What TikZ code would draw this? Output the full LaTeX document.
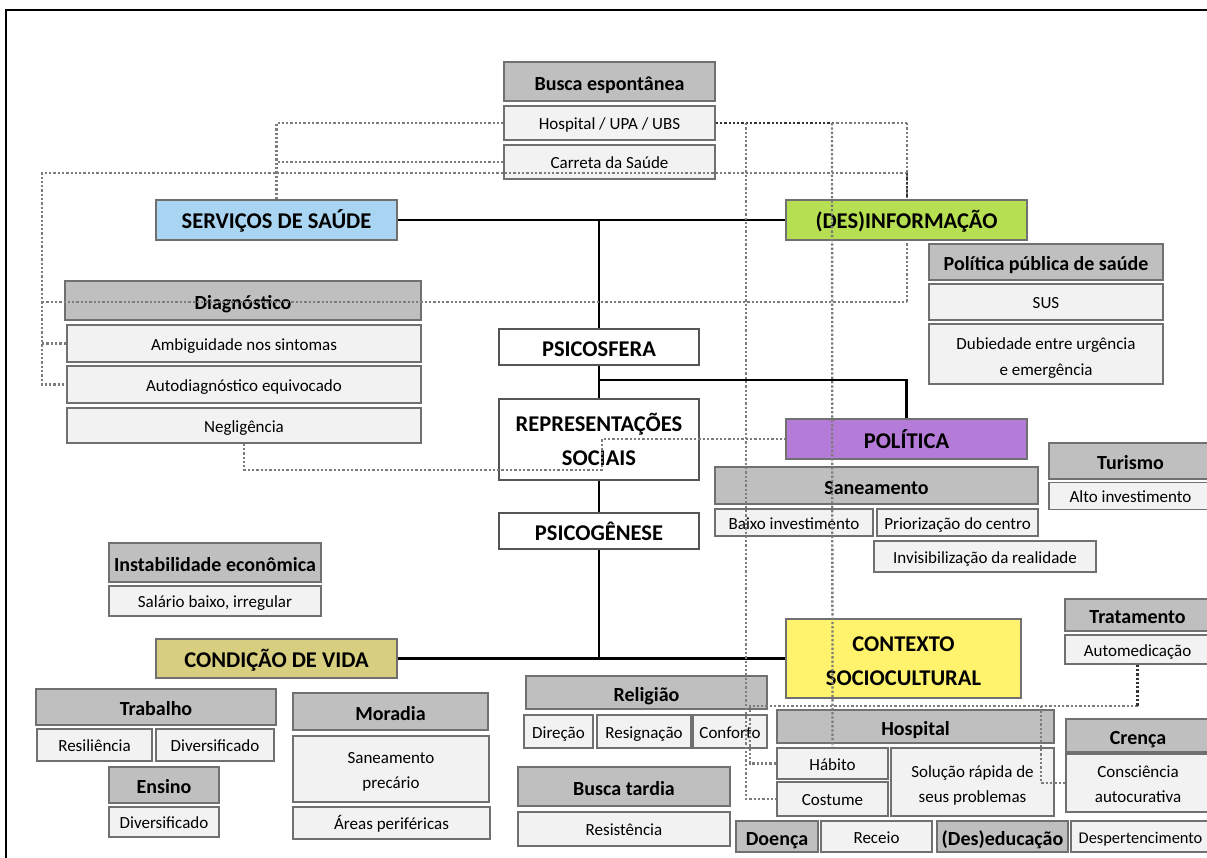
\documentclass[tikz,border=0pt]{standalone}
\usepackage{fontspec}
\setmainfont{Carlito}
\usetikzlibrary{backgrounds}
\definecolor{hdrfill}{HTML}{BFBFBF}
\definecolor{itemfill}{HTML}{F2F2F2}
\definecolor{boxline}{HTML}{707070}
\definecolor{psiline}{HTML}{555555}
\definecolor{servfill}{HTML}{A9D5F3}
\definecolor{desfill}{HTML}{B6E051}
\definecolor{polfill}{HTML}{B57BD8}
\definecolor{condfill}{HTML}{D7CE7F}
\definecolor{ctxfill}{HTML}{FFF36D}
\definecolor{dotline}{HTML}{7C7C7C}
\definecolor{dotdark}{HTML}{333333}
\begin{document}
\begin{tikzpicture}[x=1pt,y=-1pt,
  box/.style={draw=boxline, line width=1.2pt, inner sep=0pt, align=center},
  hdr/.style={box, fill=hdrfill, text height=18.6pt, text depth=1pt,
    font=\bfseries\fontsize{20}{23}\selectfont},
  itembase/.style={box, fill=itemfill, font=\fontsize{17}{25}\selectfont},
  item/.style={itembase, text height=14pt, text depth=0.5pt},
  catbase/.style={box, font=\bfseries\fontsize{22.5}{34}\selectfont},
  cat/.style={catbase, text height=19pt, text depth=1pt},
  psibase/.style={box, fill=white, draw=psiline, font=\bfseries\fontsize{22.5}{34}\selectfont},
  psi/.style={psibase, text height=19pt, text depth=1pt},
  twoline/.style={text height=#1pt, text depth=0pt},
  sz/.style 2 args={minimum width=#1pt, minimum height=#2pt},
  trunk/.style={line width=2.6pt, black},
  dots/.style={line width=2.3pt, dotline, dash pattern=on 2.3pt off 2pt},
  darkdots/.style={dots, dotdark},
]
\useasboundingbox (0,0) rectangle (1207,858);
\clip (0,0) rectangle (1207,858);

% outer frame
\draw[line width=2pt] (1230,10) -- (6,10) -- (6,880);

% ---------- nodes ----------
\node[hdr,  sz={211}{39}] (busca)   at (609.5,81.5) {Busca espontânea};
\node[item, sz={211}{34}] (hupa)    at (609.5,123)  {Hospital / UPA / UBS};
\node[item, sz={211}{34}] (carreta) at (609.5,162)  {Carreta da Saúde};

\node[cat, fill=servfill, sz={241}{40}] (serv)   at (276.5,220) {SERVIÇOS DE SAÚDE};
\node[cat, fill=desfill,  sz={241}{40}] (desinf) at (906.5,220) {(DES)INFORMAÇÃO};

\node[hdr,  sz={234}{36}] (polpub) at (1046,262) {Política pública de saúde};
\node[item, sz={234}{36}] (sus)    at (1046,302) {SUS};
\node[itembase, twoline=42, sz={234}{60}] (dub) at (1046,354) {Dubiedade entre urgência\\e emergência};

\node[hdr,  sz={356}{39}] (diag)  at (243,300.5) {Diagnóstico};
\node[item, sz={354}{37}] (ambig) at (244,343.5) {Ambiguidade nos sintomas};
\node[item, sz={354}{37}] (autod) at (244,384.5) {Autodiagnóstico equivocado};
\node[item, sz={354}{35}] (negl)  at (244,425.5) {Negligência};

\node[cat, fill=polfill, sz={241}{40}] (pol) at (906.5,439) {POLÍTICA};

\node[hdr,  sz={163}{36}] (turismo) at (1130.5,461) {Turismo};
\node[item, sz={163}{27}] (alto)    at (1130.5,496) {Alto investimento};

\node[hdr,  sz={323}{37}] (sanea) at (876.5,485.5) {Saneamento};
\node[item, sz={158}{27}] (baixo) at (794,522.5)   {Baixo investimento};
\node[item, sz={161}{27}] (prior) at (957.5,522.5) {Priorização do centro};
\node[item, sz={222}{31}] (invis) at (985,556.5)   {Invisibilização da realidade};

\node[hdr,  sz={212}{39}] (instab)  at (215,562.5) {Instabilidade econômica};
\node[item, sz={212}{30}] (salario) at (215,601)   {Salário baixo, irregular};

\node[cat, fill=condfill, sz={241}{39}] (cond) at (276.5,658.5) {CONDIÇÃO DE VIDA};

\node[hdr,  sz={240}{36}] (trab)    at (156,707)  {Trabalho};
\node[item, sz={115}{32}] (resil)   at (94.5,745) {Resiliência};
\node[item, sz={118}{32}] (divtrab) at (215,745)  {Diversificado};
\node[hdr,  sz={110}{36}] (ensino)  at (164,785)  {Ensino};
\node[item, sz={110}{30}] (divens)  at (164,822)  {Diversificado};

\node[hdr,  sz={195}{37}] (moradia) at (390.5,711.5) {Moradia};
\node[itembase, twoline=39, sz={196}{66}] (sanprec) at (391,769) {Saneamento\\precário};
\node[item, sz={197}{32}] (areas)   at (391.5,823)   {Áreas periféricas};

\node[catbase, twoline=54.5, fill=ctxfill, sz={235}{79}] (ctx) at (903.5,658.5) {CONTEXTO\\SOCIOCULTURAL};

\node[hdr,  sz={241}{33}] (relig)    at (646.5,692.5) {Religião};
\node[item, sz={69}{33}]  (direcao)  at (558.5,731.5) {Direção};
\node[item, sz={94}{33}]  (resign)   at (644,731.5)   {Resignação};
\node[item, sz={74}{33}]  (conforto) at (730,731.5)   {Conforto};
\node[hdr,  sz={212}{39}] (btardia)  at (624,786.5)   {Busca tardia};
\node[item, sz={212}{34}] (resist)   at (624,829)     {Resistência};

\node[hdr,  sz={277}{33}] (hosp)    at (915.5,726.5) {Hospital};
\node[item, sz={111}{31}] (habito)  at (832.5,763.5) {Hábito};
\node[item, sz={111}{34}] (costume) at (832.5,799)   {Costume};
\node[itembase, twoline=40.4, sz={163}{68}] (solucao) at (972.5,782) {Solução rápida de\\seus problemas};

\node[hdr,  sz={145}{32}] (trat)   at (1137.5,615)   {Tratamento};
\node[item, sz={145}{29}] (autom)  at (1137.5,649.5) {Automedicação};
\node[hdr,  sz={144}{33}] (crenca) at (1138,735.5)   {Crença};
\node[itembase, twoline=39.8, sz={144}{58}] (consc) at (1138,783) {Consciência\\autocurativa};

\node[hdr,  sz={82}{31}]  (doenca)  at (777,836.5)    {Doença};
\node[item, sz={111}{31}] (receio)  at (876.5,836.5)  {Receio};
\node[hdr,  sz={131}{31}] (desed)   at (1002.5,836.5) {(Des)educação};
\node[item, font=\fontsize{16.4}{18}\selectfont, text height=13.5pt, sz={139}{31}] (despert) at (1140.5,836.5) {Despertencimento};

\node[psi, sz={200}{36}] (psicosf) at (599,347)   {PSICOSFERA};
\node[psibase, twoline=52, sz={200}{81}] (repr) at (599,439.5) {REPRESENTAÇÕES\\SOCIAIS};
\node[psi, sz={200}{36}] (psicog)  at (599,531)   {PSICOGÊNESE};

% ---------- junction points ----------
\coordinate (rtop)  at (907,123);
\coordinate (rbot)  at (907,302);
\coordinate (rmid)  at (907,173);
\coordinate (lt)    at (42,173);
\coordinate (lb)    at (42,302);
\coordinate (hdark) at (832,123);
\coordinate (vleft) at (746,123);
\coordinate (hy)    at (750,706);
\coordinate (hc)    at (1041,706);
\coordinate (n1)    at (244,470);
\coordinate (n2)    at (602,470);
\coordinate (n3)    at (602,439);
\coordinate (branch) at (599,380);

% ---------- solid structure, behind the boxes ----------
\begin{pgfonlayer}{background}
  \draw[trunk] (serv.east) -- (desinf.west);
  \draw[trunk] (cond.east) -- (ctx.west);
  \draw[trunk] (serv.east -| psicosf.center) -- (cond.east -| psicosf.center);
  \draw[trunk] (branch) -| (pol.north);
  \draw[dots] (rtop) -- (rbot);
  \draw[darkdots] (rmid) -- (desinf.north -| rmid);
\end{pgfonlayer}

% ---------- dotted links ----------
\draw[dots] (hupa.west) -| (serv.north);
\draw[dots] (carreta.west) -- (carreta.west -| serv.north);
\draw[dots] (rmid) -- (lt) -- (autod.west -| lt) -- (autod.west);
\draw[dots] (ambig.west -| lt) -- (ambig.west);
\draw[dots] (lb) -- (rbot);
\draw[dots] (hdark) -- (rtop);
\draw[darkdots] (hupa.east) -- (hdark);
\draw[dots] (vleft) |- (costume.west);
\draw[dots] (hdark) -- (habito.north);
\draw[dots] (negl.south) -- (n1) -- (n2) -- (n3) -- (pol.west);
\draw[dots] (autom.south |- hy) -- (hy) |- (habito.west);
\draw[darkdots] (autom.south) -- (autom.south |- hy);
\draw[dots] (hc) |- (consc.west);

\end{tikzpicture}
\end{document}
